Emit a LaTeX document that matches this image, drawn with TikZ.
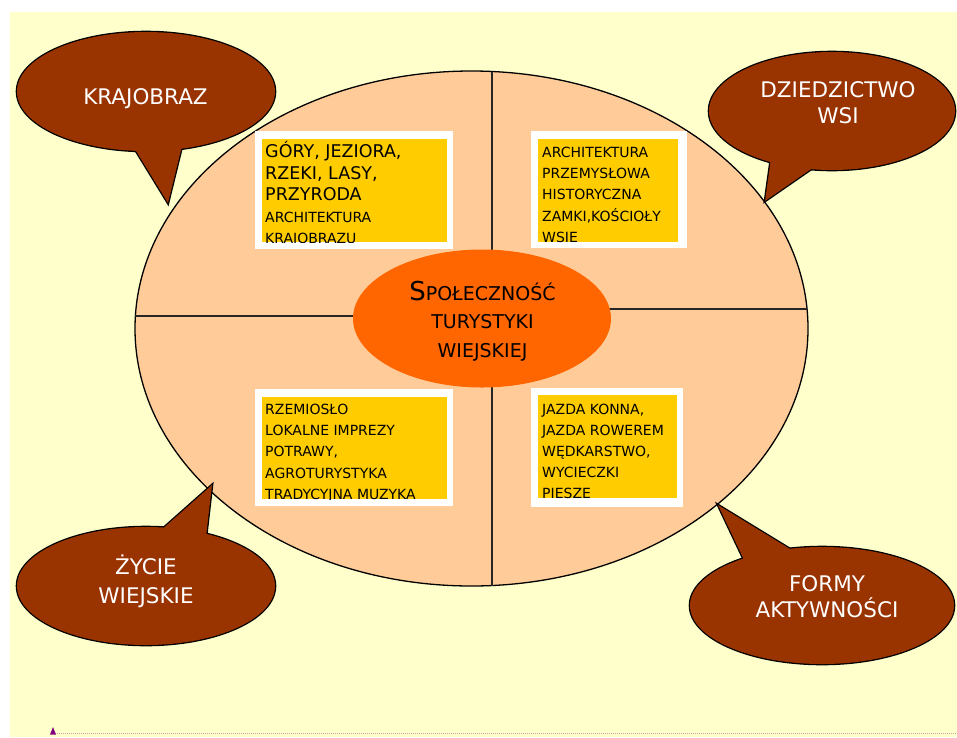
\documentclass[tikz,border=0pt]{standalone}
\usepackage{fontspec}
\setmainfont{DejaVu Sans}
\usetikzlibrary{positioning}
\definecolor{rtBack}{HTML}{FFFFCC}
\definecolor{rtPeach}{HTML}{FFCC99}
\definecolor{rtGold}{HTML}{FFCC00}
\definecolor{rtOrange}{HTML}{FF6600}
\definecolor{rtBrown}{HTML}{993300}
\definecolor{rtPurple}{HTML}{800080}
\definecolor{rtRule}{HTML}{CCA0A8}

\begin{document}
\begin{tikzpicture}[x=1pt, y=-1pt,
  bubbletext/.style={text=white, align=center, inner sep=0, anchor=base,
    font=\fontsize{21.5}{26}\selectfont},
  boxtext/.style={anchor=base west, align=left, inner sep=0,
    font=\fontsize{14}{21.3}\selectfont},
  quarter/.style={line width=1.3pt, draw=black!85}]
  \useasboundingbox (0,0) rectangle (957,737);
  % slide background
  \fill[rtBack] (10,12) rectangle (957,737);
  \coordinate (ruleL) at (55,733.5);
  \coordinate (ruleR) at (957,733.5);
  \draw[rtRule, line width=1.5pt, dash pattern=on 1pt off 1pt] (ruleL) -- (ruleR);
  \fill[rtPurple] (50,734.5) -- (53,727) -- (56,734.5) -- cycle;

  % big ellipse cut in four
  \filldraw[fill=rtPeach, draw=black, line width=1.3pt] (471.5,328.5) ellipse [x radius=336.5, y radius=257.5];
  \coordinate (hubc) at (482,318.5);
  \coordinate (qtop) at (492,71.5);
  \coordinate (qbot) at (492,585.5);
  \coordinate (qleft) at (135.4,316);
  \coordinate (qright) at (807,309);
  \draw[quarter] (qtop) -- (qbot);
  \draw[quarter] (qleft) -- (qleft -| hubc);
  \draw[quarter] (qright) -- (qright -| hubc);

  % four boxes: white frame, gold inside
  \foreach \wx/\wy/\wX/\wY/\gx/\gy/\gX/\gY in {255/131/453/249/262/139/447/242,
      531/131/687/248/538/139/678/242, 255/389/453/506/262/397/447/499,
      531/388/683/507/538/395/677/498} {
    \fill[white] (\wx,\wy) rectangle (\wX,\wY);
    \fill[rtGold] (\gx,\gy) rectangle (\gX,\gY);
  }
  \begin{scope}
    \clip (262,139) rectangle (447,242);
    \node[boxtext, font=\fontsize{17.5}{21.5}\selectfont] (landscape) at (265,243.5)
      {GÓRY, JEZIORA,\\RZEKI, LASY,\\PRZYRODA\\
       {\fontsize{14}{21.5}\selectfont ARCHITEKTURA}\\
       {\fontsize{14}{21.5}\selectfont KRAJOBRAZU}};
  \end{scope}
  \begin{scope}
    \clip (538,139) rectangle (678,242);
    \node[boxtext] (heritage) at (542,242.5)
      {ARCHITEKTURA\\PRZEMYSŁOWA\\HISTORYCZNA\\ZAMKI,KOŚCIOŁY\\WSIE};
  \end{scope}
  \begin{scope}
    \clip (262,397) rectangle (447,499);
    \node[boxtext] (village) at (265,499.5)
      {RZEMIOSŁO\\LOKALNE IMPREZY\\POTRAWY,\\AGROTURYSTYKA\\TRADYCYJNA MUZYKA};
  \end{scope}
  \begin{scope}
    \clip (538,395) rectangle (677,498);
    \node[boxtext, font=\fontsize{14}{21}\selectfont] (activity) at (542,498)
      {JAZDA KONNA,\\JAZDA ROWEREM\\WĘDKARSTWO,\\WYCIECZKI\\PIESZE};
  \end{scope}

  % centre
  \fill[rtOrange] (hubc) ellipse [x radius=129, y radius=69];
  \node[align=center, inner sep=0, anchor=base, font=\fontsize{19}{28.5}\selectfont] (hub) at (482.5,357)
    {{\fontsize{26}{28.5}\selectfont S}POŁECZNOŚĆ\\TURYSTYKI\\WIEJSKIEJ};

  % speech bubbles
  \foreach \cx/\cy/\rx/\ry/\ax/\ay/\tx/\ty/\bx/\by in {146/91.5/129/59.5/133/146/168/203/182/146,
      832/111/123/59/771/158/765/201/817/165, 146/586/129/59/159/532/212/485/206/537,
      822/605.5/132/58.5/745/562/718/505/795/552} {
    \draw[line width=2.6pt] (\cx,\cy) ellipse [x radius=\rx, y radius=\ry];
    \draw[line width=2.6pt, line join=miter] (\ax,\ay) -- (\tx,\ty) -- (\bx,\by) -- cycle;
  }
  \foreach \cx/\cy/\rx/\ry/\ax/\ay/\tx/\ty/\bx/\by in {146/91.5/129/59.5/133/146/168/203/182/146,
      832/111/123/59/771/158/765/201/817/165, 146/586/129/59/159/532/212/485/206/537,
      822/605.5/132/58.5/745/562/718/505/795/552} {
    \fill[rtBrown] (\cx,\cy) ellipse [x radius=\rx, y radius=\ry];
    \fill[rtBrown] (\ax,\ay) -- (\tx,\ty) -- (\bx,\by) -- cycle;
  }
  \node[bubbletext] (krajobraz) at (145.5,104) {KRAJOBRAZ};
  \node[bubbletext] (dziedzictwo) at (838,123) {DZIEDZICTWO\\WSI};
  \node[bubbletext, font=\fontsize{21.5}{29}\selectfont] (zycie) at (146,603) {ŻYCIE\\WIEJSKIE};
  \node[bubbletext, font=\fontsize{21.5}{25.5}\selectfont] (formy) at (827,617) {FORMY\\AKTYWNOŚCI};
\end{tikzpicture}
\end{document}
